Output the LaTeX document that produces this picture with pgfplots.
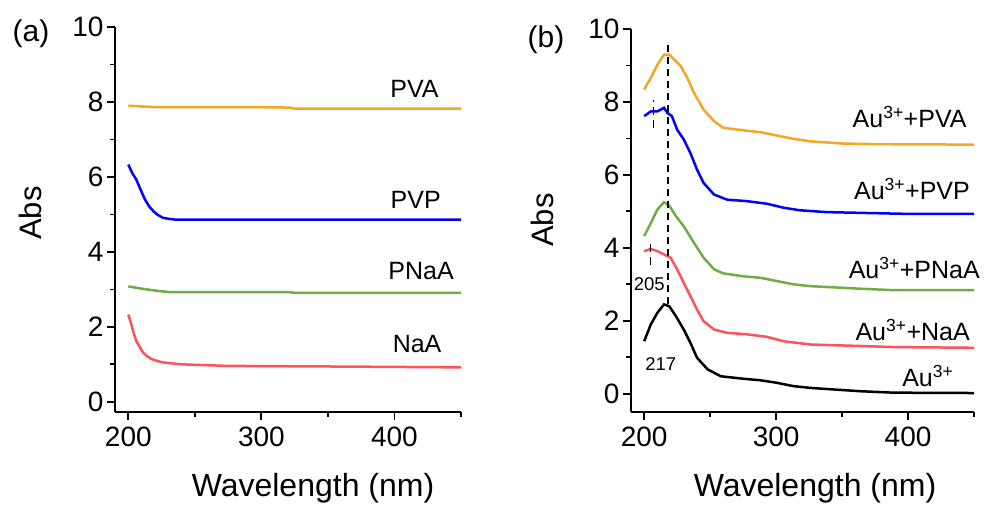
\documentclass[border=0pt]{standalone}
\usepackage{fontspec}
\setmainfont{Liberation Sans}
\usepackage{pgfplots}
\pgfplotsset{compat=1.18}

\definecolor{corange}{RGB}{245,166,35}
\definecolor{cblue}{RGB}{0,0,255}
\definecolor{cgreen}{RGB}{112,173,71}
\definecolor{cred}{RGB}{255,82,92}

\pgfplotsset{spec/.style={
    scale only axis, anchor=south west,
    xmin=190, xmax=450,
    xtick={200,300,400}, minor xtick={250,350,450},
    ymax=10, ytick={0,2,4,6,8,10}, minor ytick={1,3,5,7,9},
    axis x line*=bottom, axis y line*=left,
    axis line style={line width=2.2pt,-},
    tick align=outside,
    every tick/.style={line width=1.8pt, black},
    major tick length=8pt, minor tick length=5pt,
    ticklabel style={font=\fontsize{28}{28}\selectfont},
    xticklabel style={yshift=-3pt},
    /pgf/number format/assume math mode=true,
    every axis plot/.append style={line width=2.5pt, no marks},
    clip=false,
  }}

\begin{document}
\begin{tikzpicture}
\useasboundingbox (0,0) rectangle (986pt,506pt);

% (a) polymers alone
\begin{axis}[spec, at={(115pt,94pt)}, width=346pt, height=385pt, ymin=-0.27]
\addplot[corange] coordinates {(200,7.90)(210,7.88)(222,7.86)(300,7.86)(322,7.85)(325,7.82)(450,7.82)};
\addplot[cblue] coordinates {(200,6.33)(203,6.10)(206,5.93)(209,5.68)(212.5,5.40)(216,5.20)(219,5.08)(222,4.99)(226,4.91)(231,4.88)(236,4.86)(450,4.86)};
\addplot[cgreen] coordinates {(200,3.08)(210,3.02)(220,2.97)(230,2.93)(320,2.93)(325,2.91)(450,2.91)};
\addplot[cred] coordinates {(200,2.33)(202,2.10)(204,1.84)(206,1.62)(209,1.44)(211,1.32)(214,1.22)(217,1.15)(221,1.10)(225,1.06)(229,1.04)(235,1.02)(241,1.00)(274,0.96)(370,0.94)(450,0.92)};
\node[font=\fontsize{25}{25}\selectfont] at (axis cs:415,8.35) {PVA};
\node[font=\fontsize{25}{25}\selectfont] at (axis cs:416,5.40) {PVP};
\node[font=\fontsize{25}{25}\selectfont] at (axis cs:420,3.48) {PNaA};
\node[font=\fontsize{25}{25}\selectfont] at (axis cs:417,1.53) {NaA};
\end{axis}

% (b) with Au3+
\begin{axis}[spec, at={(631pt,94pt)}, width=343pt, height=383pt, ymin=-0.5]
\addplot[corange] coordinates {(200,8.34)(205,8.66)(210,9.02)(215,9.30)(219,9.30)(223,9.15)(227.7,8.98)(232.7,8.66)(237.7,8.25)(245,7.79)(253,7.47)(260,7.29)(275.5,7.22)(288,7.17)(300.6,7.08)(313,6.99)(326,6.92)(338,6.89)(351,6.86)(363.5,6.85)(388.7,6.84)(450,6.83)};
\addplot[cblue] coordinates {(200,7.61)(205,7.74)(210,7.74)(215,7.84)(217.6,7.70)(221,7.61)(225,7.24)(230,6.97)(235,6.60)(240,6.15)(245,5.78)(253,5.46)(263,5.32)(278,5.28)(293,5.21)(305.7,5.10)(318,5.03)(338,4.98)(401,4.93)(450,4.93)};
\addplot[cgreen] coordinates {(200,4.32)(205,4.68)(210,5.05)(215,5.25)(219,5.16)(224,4.87)(230,4.59)(237.7,4.14)(245,3.73)(253,3.41)(260,3.30)(275,3.22)(288,3.18)(300.6,3.09)(313,3.00)(326,2.95)(363.5,2.88)(388.7,2.84)(450,2.84)};
\addplot[cred] coordinates {(200,3.91)(205,3.97)(210,3.91)(215,3.82)(220,3.73)(225,3.41)(230,3.04)(235,2.68)(240,2.31)(245,1.99)(253,1.76)(263,1.67)(278,1.63)(293,1.56)(305.7,1.44)(326,1.35)(363.5,1.31)(388.7,1.28)(450,1.26)};
\addplot[black] coordinates {(200,1.44)(205,1.90)(210,2.22)(215,2.45)(219,2.40)(224,2.13)(230,1.76)(235,1.40)(240,0.99)(248,0.67)(258,0.48)(275.5,0.41)(288,0.37)(300.6,0.30)(313,0.21)(326,0.16)(363.5,0.07)(388.7,0.03)(450,0.02)};
\addplot[black, line width=1.4pt, dash pattern=on 7pt off 5pt] coordinates {(218,2.45)(218,9.62)};
\addplot[black, line width=1.4pt, dash pattern=on 8pt off 5pt] coordinates {(207,7.29)(207,8.06)};
\addplot[black, line width=1.4pt, dash pattern=on 8pt off 5pt] coordinates {(205,3.54)(205,4.25)};
\node[font=\fontsize{18.5}{18.5}\selectfont] at (axis cs:203.8,3.0) {205};
\node[font=\fontsize{18.5}{18.5}\selectfont] at (axis cs:212.6,0.82) {217};
\node[anchor=east, font=\fontsize{25}{25}\selectfont] at (axis cs:447,7.6) {Au\textsuperscript{3+}+PVA};
\node[anchor=east, font=\fontsize{25}{25}\selectfont] at (axis cs:449.5,5.6) {Au\textsuperscript{3+}+PVP};
\node[anchor=east, font=\fontsize{25}{25}\selectfont] at (axis cs:457,3.45) {Au\textsuperscript{3+}+PNaA};
\node[anchor=east, font=\fontsize{25}{25}\selectfont] at (axis cs:449.5,1.74) {Au\textsuperscript{3+}+NaA};
\node[anchor=east, font=\fontsize{25}{25}\selectfont] at (axis cs:437,0.48) {Au\textsuperscript{3+}};
\end{axis}

% axis titles and panel letters
\node[rotate=90, font=\fontsize{31}{31}\selectfont] at (30pt,293pt) {Abs};
\node[rotate=90, font=\fontsize{31}{31}\selectfont] at (542pt,286pt) {Abs};
\node[anchor=base, font=\fontsize{32}{32}\selectfont] at (313pt,9pt) {Wavelength (nm)};
\node[anchor=base, font=\fontsize{32}{32}\selectfont] at (815pt,9pt) {Wavelength (nm)};
\node[anchor=base, font=\fontsize{30}{30}\selectfont] at (31pt,464pt) {(a)};
\node[anchor=base, font=\fontsize{30}{30}\selectfont] at (546pt,458pt) {(b)};
\end{tikzpicture}
\end{document}
